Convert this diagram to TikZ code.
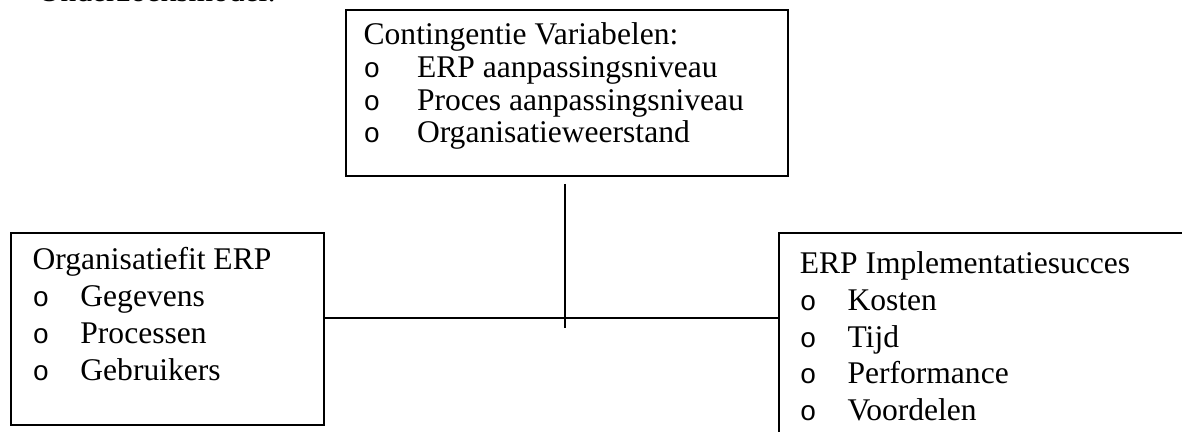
\documentclass[tikz,border=0pt]{standalone}
\usepackage{fontspec}
\setmainfont{Liberation Serif}
\newfontfamily\bulletfont{Liberation Mono}
\usepackage{tikz}
\usetikzlibrary{positioning}
\setlength{\parskip}{0pt}
\newcommand{\bul}[2][21.5pt]{\par\makebox[#1][l]{\bulletfont\fontsize{12.5pt}{12pt}\selectfont o}#2}
\newcommand{\boxtext}[4]{\parbox[t][#1][t]{#2}{\fontsize{14.2pt}{#3}\selectfont #4}}
\tikzstyle{model} = [rectangle, draw=black, line width=0.8pt, anchor=north west, font=\fontsize{14.2pt}{16.6pt}\selectfont]
\tikzstyle{link} = [line width=0.8pt]

\begin{document}
\begin{tikzpicture}[x=0.45pt, y=-0.45pt]
        \useasboundingbox (0,0) rectangle (1182,432);
        \node (title) [anchor=base west, font=\fontsize{14.2pt}{16.6pt}\selectfont] at (30,2) {Onderzoeksmodel:};
        \node (cvar) [model, inner xsep=8pt, inner ysep=5.6pt] at (345,9) {\boxtext{63.5pt}{182.9pt}{14.8pt}{Contingentie Variabelen:
                \bul[24pt]{ERP aanpassingsniveau}
                \bul[24pt]{Proces aanpassingsniveau}
                \bul[24pt]{Organisatieweerstand}}};
        \node (orgfit) [model, inner xsep=9.8pt, inner ysep=6.5pt] at (10,232) {\boxtext{73.4pt}{121.2pt}{16.6pt}{Organisatiefit ERP
                \bul{Gegevens}
                \bul{Processen}
                \bul{Gebruikers}}};
        \node (erp) [model, inner xsep=9.4pt, inner ysep=8.3pt] at (778,232) {\boxtext{90.4pt}{216pt}{16.6pt}{ERP Implementatiesucces
                \bul{Kosten}
                \bul{Tijd}
                \bul{Performance}
                \bul{Voordelen}}};

        \coordinate (jtop) at (565,184);
        \coordinate (jbot) at (565,328);
        \coordinate (junction) at (565,318);

        \draw [link] (jtop) -- (jbot);
        \draw [link] (orgfit.east |- junction) -- (erp.west |- junction);

\end{tikzpicture}
\end{document}
